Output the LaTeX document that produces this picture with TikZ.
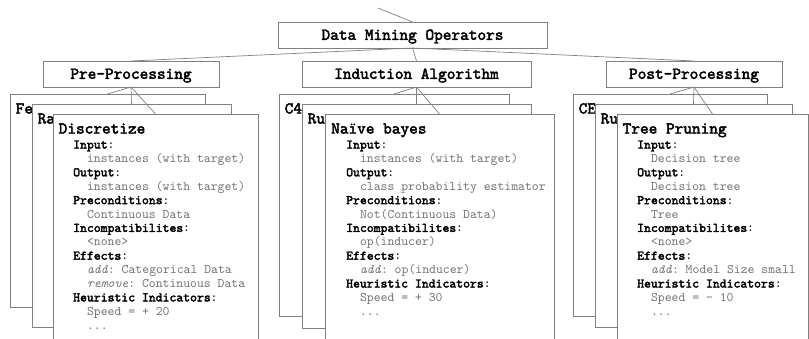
\documentclass[tikz,border=0pt]{standalone}
\usepackage{fontspec}
\setmonofont{lmmono10-regular.otf}[
  BoldFont=lmmono10-regular.otf,
  BoldFeatures={FakeBold=2.5},
  ItalicFont=lmmono10-italic.otf]
\definecolor{linegray}{gray}{0.5}
\definecolor{valgray}{gray}{0.45}
\tikzset{
  frame/.style={draw=linegray, line width=0.8pt, fill=white, inner sep=0pt, outer sep=0pt},
  head/.style={frame, font=\ttfamily\bfseries\fontsize{16.5}{18}\selectfont,
    text height=9.6pt, text depth=0pt},
  card/.style={frame, anchor=north west},
  link/.style={draw=linegray, line width=0.7pt},
  ctitle/.style={anchor=base west, inner sep=0pt,
    font=\ttfamily\bfseries\fontsize{16.5}{18}\selectfont},
  clabel/.style={anchor=base west, inner sep=0pt,
    font=\ttfamily\fontsize{13.1}{13.9}\selectfont},
  cvalue/.style={clabel, text=valgray, xshift=13.8pt},
}
% body of an operator card: prefix, x of the labels, top of the card, lines
\newcommand\opbody[4]{%
  \foreach [count=\k] \kind/\txt in {#4} {
    \node[\kind] (#1-\k) at (#2, {#3+34.5+(\k-1)*13.9}) {\txt};
  }%
}
\begin{document}
\begin{tikzpicture}[x=1pt, y=-1pt]
\path[use as bounding box] (0,0) rectangle (809,338);
\clip (0,0) rectangle (809,338);

% operator hierarchy
\coordinate (up) at (378,8);
\node[head, minimum width=269pt, minimum height=26pt] (dmo) at (412.5,35) {Data Mining Operators};
\node[head, minimum width=176pt, minimum height=26pt] (pre) at (131,74) {Pre-Processing};
\node[head, minimum width=229pt, minimum height=26pt] (ind) at (416.5,74) {Induction Algorithm};
\node[head, minimum width=176pt, minimum height=26pt] (post) at (694,74) {Post-Processing};

% pre-processing operators
\node[card, minimum width=195pt, minimum height=213pt] (fe) at (10,94) {};
\node[ctitle] (fe-t) at (15.5,113.5) {Fe};
\node[card, minimum width=199pt, minimum height=223pt] (ra) at (32,104) {};
\node[ctitle] (ra-t) at (37.5,123.5) {Ra};
\node[card, minimum width=205pt, minimum height=240pt] (disc) at (53,114) {};
\node[ctitle] (disc-t) at (58.5,133.5) {Discretize};
\opbody{disc}{73}{114}{
  clabel/{\textbf{Input}:},
  cvalue/{instances (with target)},
  clabel/{\textbf{Output}:},
  cvalue/{instances (with target)},
  clabel/{\textbf{Preconditions}:},
  cvalue/{Continuous Data},
  clabel/{\textbf{Incompatibilites}:},
  cvalue/{<none>},
  clabel/{\textbf{Effects}:},
  cvalue/{\textit{add}: Categorical Data},
  cvalue/{\textit{remove}: Continuous Data},
  clabel/{\textbf{Heuristic Indicators}:},
  cvalue/{Speed = + 20},
  cvalue/{...}}

% induction algorithms
\node[card, minimum width=230pt, minimum height=222pt] (cf) at (279,94) {};
\node[ctitle] (cf-t) at (284.5,113.5) {C4};
\node[card, minimum width=229pt, minimum height=224pt] (ru) at (302,104) {};
\node[ctitle] (ru-t) at (307.5,123.5) {Ru};
\node[card, minimum width=229pt, minimum height=240pt] (nb) at (325,114) {};
\node[ctitle] (nb-t) at (331,133.5) {Naïve bayes};
\opbody{nb}{346}{114}{
  clabel/{\textbf{Input}:},
  cvalue/{instances (with target)},
  clabel/{\textbf{Output}:},
  cvalue/{class probability estimator},
  clabel/{\textbf{Preconditions}:},
  cvalue/{Not(Continuous Data)},
  clabel/{\textbf{Incompatibilites}:},
  cvalue/{op(inducer)},
  clabel/{\textbf{Effects}:},
  cvalue/{\textit{add}: op(inducer)},
  clabel/{\textbf{Heuristic Indicators}:},
  cvalue/{Speed = + 30},
  cvalue/{...}}

% post-processing operators
\node[card, minimum width=194pt, minimum height=222pt] (ce) at (573,94) {};
\node[ctitle] (ce-t) at (578.5,113.5) {CE};
\node[card, minimum width=197pt, minimum height=223pt] (rp) at (595,104) {};
\node[ctitle] (rp-t) at (600.5,123.5) {Ru};
\node[card, minimum width=191pt, minimum height=240pt] (tp) at (617,114) {};
\node[ctitle] (tp-t) at (622.5,133.5) {Tree Pruning};
\opbody{tp}{637}{114}{
  clabel/{\textbf{Input}:},
  cvalue/{Decision tree},
  clabel/{\textbf{Output}:},
  cvalue/{Decision tree},
  clabel/{\textbf{Preconditions}:},
  cvalue/{Tree},
  clabel/{\textbf{Incompatibilites}:},
  cvalue/{<none>},
  clabel/{\textbf{Effects}:},
  cvalue/{\textit{add}: Model Size small},
  clabel/{\textbf{Heuristic Indicators}:},
  cvalue/{Speed = - 10},
  cvalue/{...}}

% connectors
\draw[link] (dmo.north) -- (up);
\foreach \c in {pre, ind, post} \draw[link] (dmo.south) -- (\c.north);
\foreach \c in {fe, ra, disc} \draw[link] (pre.south) -- (\c.north);
\foreach \c in {cf, ru, nb} \draw[link] (ind.south) -- (\c.north);
\foreach \c in {ce, rp, tp} \draw[link] (post.south) -- (\c.north);
\end{tikzpicture}
\end{document}
